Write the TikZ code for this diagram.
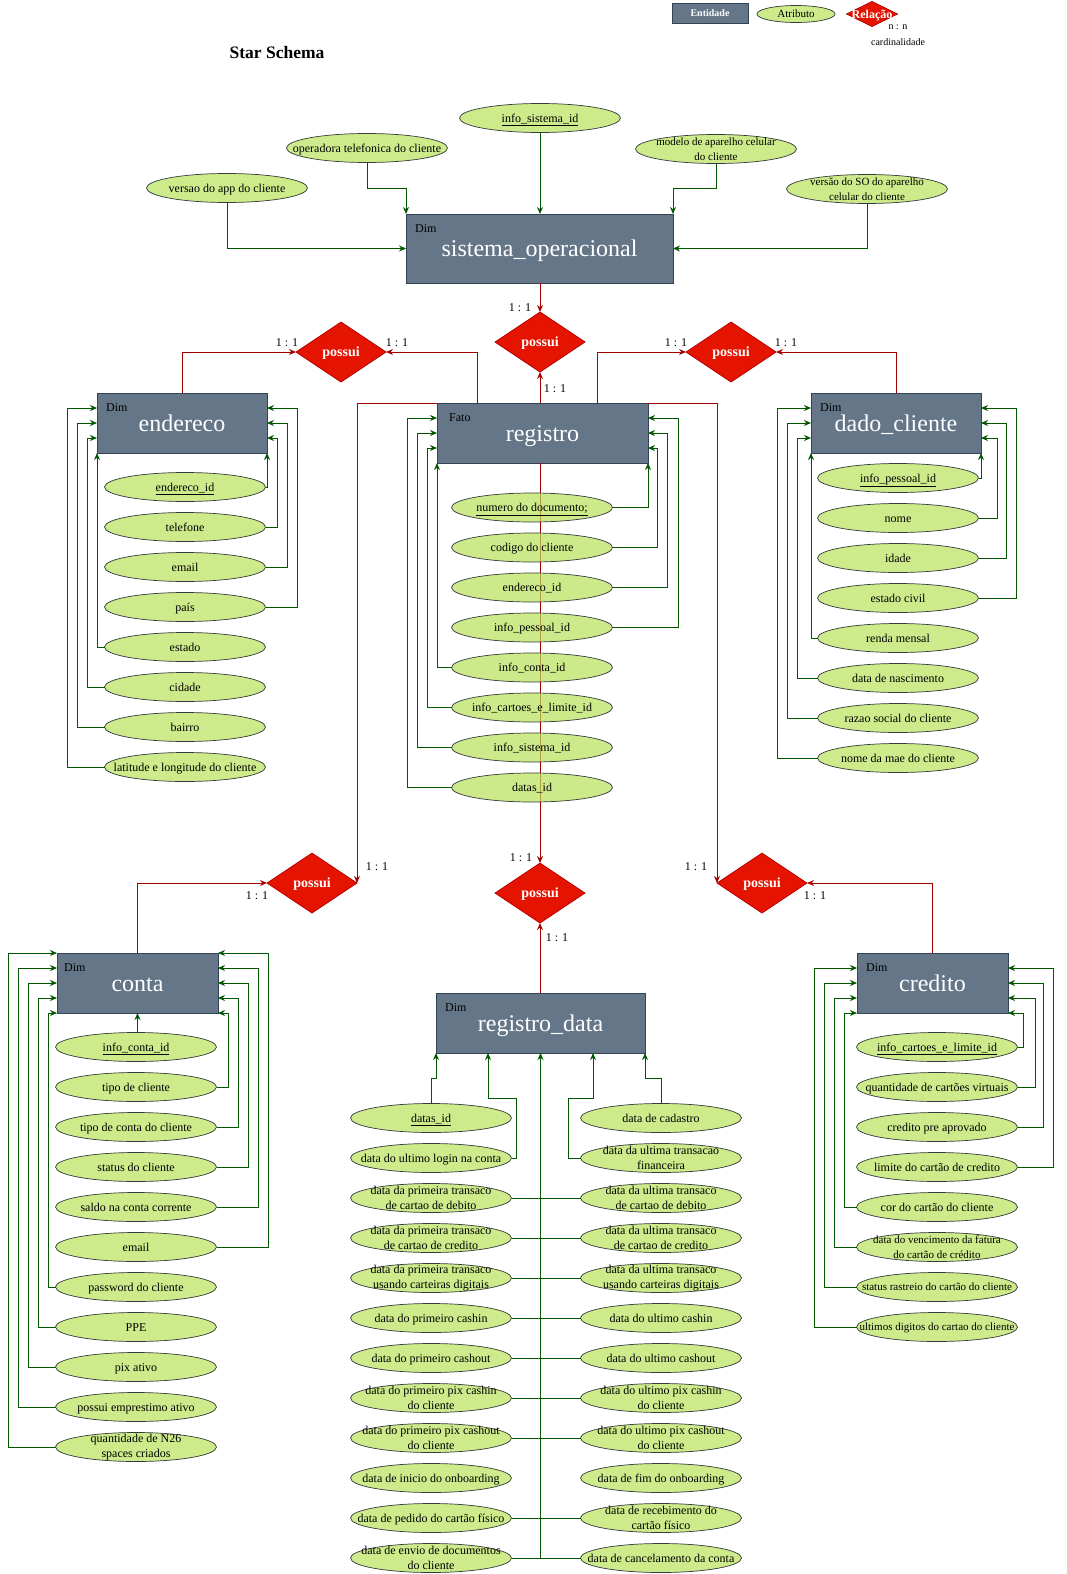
\documentclass[tikz,border=0pt]{standalone}
\usepackage{fontspec}
\setmainfont{Liberation Serif}
\usetikzlibrary{arrows.meta,shapes.geometric}
\definecolor{entfill}{HTML}{647687}
\definecolor{entdraw}{HTML}{314354}
\definecolor{attfill}{HTML}{CDEB8B}
\definecolor{attfillT}{HTML}{B8E259}
\definecolor{attdraw}{HTML}{36393D}
\definecolor{relfill}{HTML}{E51400}
\definecolor{reldraw}{HTML}{B20000}
\definecolor{gline}{HTML}{005700}
\definecolor{rline}{HTML}{A50000}
\tikzset{
 ent/.style={draw=entdraw, fill=entfill, text=white, inner sep=0pt, outer sep=0pt, line width=0.8pt, font=\fontsize{24}{28}\selectfont, text height=21.4pt, text depth=5.2pt},
 dimlab/.style={anchor=north west, xshift=9pt, yshift=-10pt, inner sep=0pt, text=black, font=\fontsize{12}{14}\selectfont, text height=8.2pt, text depth=0pt},
 att/.style={ellipse, draw=attdraw, fill=attfill, line width=0.7pt, minimum width=161pt, minimum height=29pt, inner xsep=-70pt, inner ysep=-20pt, outer sep=0pt, align=center, font=\fontsize{12}{15}\selectfont, text height=10.7pt, text depth=2.6pt},
 att2/.style={att, text height=, text depth=},
 attsm/.style={att, font=\fontsize{11}{15}\selectfont, text height=9.8pt, text depth=2.4pt},
 attsm2/.style={att, font=\fontsize{11}{15}\selectfont, text height=, text depth=},
 attT/.style={att, fill=attfillT, fill opacity=0.7, text opacity=1, draw opacity=1},
 rel/.style={diamond, draw=reldraw, fill=relfill, text=white, line width=0.7pt, minimum width=90pt, minimum height=60pt, inner sep=-30pt, outer sep=0pt, font=\bfseries\fontsize{14}{16}\selectfont, text height=12.5pt, text depth=3pt},
 card/.style={font=\fontsize{12}{14}\selectfont, inner sep=0pt, text height=10.7pt, text depth=2.6pt},
 garr/.style={draw=gline, line width=1pt, -{Stealth[length=7pt,width=6pt]}},
 gl/.style={draw=gline, line width=1pt},
 rarr/.style={draw=rline, line width=1pt, -{Stealth[length=7pt,width=6pt]}},
}
\begin{document}
\begin{tikzpicture}[x=1pt,y=-1pt]
\path[use as bounding box, fill=white] (0,0) rectangle (1067,1574);

% legend and title
\node[ent, minimum width=76pt, minimum height=20pt, font=\bfseries\fontsize{10}{12}\selectfont, text height=8.9pt, text depth=2.2pt] (legEnt) at (710,13) {Entidade};
\node[att, minimum width=78pt, minimum height=17pt, font=\fontsize{11}{12}\selectfont, text height=9.8pt, text depth=2.4pt] (legAtt) at (796,14) {Atributo};
\node[rel, minimum width=51pt, minimum height=25pt, font=\bfseries\fontsize{12}{13}\selectfont, text height=10.7pt, text depth=2.6pt] (legRel) at (872,14) {Relação};
\node[font=\fontsize{10}{12}\selectfont, inner sep=0pt] (legNN) at (898,27) {n : n};
\node[font=\fontsize{10}{12}\selectfont, inner sep=0pt] (legCard) at (898,42) {cardinalidade};
\node[font=\bfseries\fontsize{17.5}{20}\selectfont] (title) at (277,53) {Star Schema};

% entities
\node[ent, minimum width=267pt, minimum height=69pt, label={[dimlab]north west:Dim}] (so) at (539.5,248.5) {sistema\_operacional};
\node[ent, minimum width=170pt, minimum height=60pt, label={[dimlab]north west:Dim}] (endereco) at (182,423) {endereco};
\node[ent, minimum width=211pt, minimum height=60pt, label={[dimlab, xshift=3pt]north west:Fato}] (registro) at (542.5,433) {registro};
\node[ent, minimum width=170pt, minimum height=60pt, label={[dimlab]north west:Dim}] (dado) at (896,423) {dado\_cliente};
\node[ent, minimum width=161pt, minimum height=60pt, label={[dimlab, xshift=-2pt]north west:Dim}] (conta) at (137.5,983) {conta};
\node[ent, minimum width=151pt, minimum height=60pt, label={[dimlab]north west:Dim}] (credito) at (932.5,983) {credito};
\node[ent, minimum width=209pt, minimum height=60pt, label={[dimlab]north west:Dim}] (regdata) at (540.5,1023) {registro\_data};

% relationships
\node[rel] (dTop) at (540,342) {possui};
\node[rel] (dTL) at (341,352) {possui};
\node[rel] (dTR) at (731,352) {possui};
\node[rel] (dBC) at (540,893) {possui};
\node[rel] (dBL) at (312,883) {possui};
\node[rel] (dBR) at (762,883) {possui};

% red line through registro attributes (beneath them)
\draw[rarr] (registro.south -| dBC.north) -- (dBC.north);

% sistema_operacional attributes
\node[att] (s1) at (540,118) {\underline{info\_sistema\_id}};
\node[att] (s2) at (367,148) {operadora telefonica do cliente};
\node[att] (s3) at (227,188) {versao do app do cliente};
\node[attsm2] (s4) at (716,149) {modelo de aparelho celular\\do cliente};
\node[attsm2] (s5) at (867,189) {versão do SO do aparelho\\celular do cliente};

% endereco attributes
\node[att] (e1) at (185,487) {\underline{endereco\_id}};
\node[att] (e2) at (185,527) {telefone};
\node[att] (e3) at (185,567) {email};
\node[att] (e4) at (185,607) {país};
\node[att] (e5) at (185,647) {estado};
\node[att] (e6) at (185,687) {cidade};
\node[att] (e7) at (185,727) {bairro};
\node[att] (e8) at (185,767) {latitude e longitude do cliente};

% registro attributes
\node[attT] (r1) at (532,507.5) {\underline{numero do documento;}};
\node[attT] (r2) at (532,547.5) {codigo do cliente};
\node[attT] (r3) at (532,587.5) {endereco\_id};
\node[attT] (r4) at (532,627.5) {info\_pessoal\_id};
\node[attT] (r5) at (532,667.5) {info\_conta\_id};
\node[attT] (r6) at (532,707.5) {info\_cartoes\_e\_limite\_id};
\node[attT] (r7) at (532,747.5) {info\_sistema\_id};
\node[attT] (r8) at (532,787.5) {datas\_id};

% dado_cliente attributes
\node[att] (d1) at (898,478) {\underline{info\_pessoal\_id}};
\node[att] (d2) at (898,518) {nome};
\node[att] (d3) at (898,558) {idade};
\node[att] (d4) at (898,598) {estado civil};
\node[att] (d5) at (898,638) {renda mensal};
\node[att] (d6) at (898,678) {data de nascimento};
\node[att] (d7) at (898,718) {razao social do cliente};
\node[att] (d8) at (898,758) {nome da mae do cliente};

% conta attributes
\node[att] (c1) at (136,1047) {\underline{info\_conta\_id}};
\node[att] (c2) at (136,1087) {tipo de cliente};
\node[att] (c3) at (136,1127) {tipo de conta do cliente};
\node[att] (c4) at (136,1167) {status do cliente};
\node[att] (c5) at (136,1207) {saldo na conta corrente};
\node[att] (c6) at (136,1247) {email};
\node[att] (c7) at (136,1287) {password do cliente};
\node[att] (c8) at (136,1327) {PPE};
\node[att] (c9) at (136,1367) {pix ativo};
\node[att] (c10) at (136,1407) {possui emprestimo ativo};
\node[att2] (c11) at (136,1447) {quantidade de N26\\spaces criados};

% credito attributes
\node[att] (k1) at (937,1047) {\underline{info\_cartoes\_e\_limite\_id}};
\node[att] (k2) at (937,1087) {quantidade de cartões virtuais};
\node[att] (k3) at (937,1127) {credito pre aprovado};
\node[att] (k4) at (937,1167) {limite do cartão de credito};
\node[att] (k5) at (937,1207) {cor do cartão do cliente};
\node[attsm2] (k6) at (937,1247) {data do vencimento da fatura\\do cartão de crédito};
\node[attsm] (k7) at (937,1287) {status rastreio do cartão do cliente};
\node[attsm] (k8) at (937,1327) {ultimos digitos do cartao do cliente};

% registro_data attributes
\node[att] (L1) at (431,1118) {\underline{datas\_id}};
\node[att] (L2) at (431,1158) {data do ultimo login na conta};
\node[att2] (L3) at (431,1198) {data da primeira transaco\\de cartao de debito};
\node[att2] (L4) at (431,1238) {data da primeira transaco\\de cartao de credito};
\node[att2] (L5) at (431,1278) {data da primeira transaco\\usando carteiras digitais};
\node[att] (L6) at (431,1318) {data do primeiro cashin};
\node[att] (L7) at (431,1358) {data do primeiro cashout};
\node[att2] (L8) at (431,1398) {data do primeiro pix cashin\\do cliente};
\node[att2] (L9) at (431,1438) {data do primeiro pix cashout\\do cliente};
\node[att] (L10) at (431,1478) {data de inicio do onboarding};
\node[att] (L11) at (431,1518) {data de pedido do cartão físico};
\node[att2] (L12) at (431,1558) {data de envio de documentos\\do cliente};
\node[att] (R1) at (661,1118) {data de cadastro};
\node[att2] (R2) at (661,1158) {data da ultima transacao\\financeira};
\node[att2] (R3) at (661,1198) {data da ultima transaco\\de cartao de debito};
\node[att2] (R4) at (661,1238) {data da ultima transaco\\de cartao de credito};
\node[att2] (R5) at (661,1278) {data da ultima transaco\\usando carteiras digitais};
\node[att] (R6) at (661,1318) {data do ultimo cashin};
\node[att] (R7) at (661,1358) {data do ultimo cashout};
\node[att2] (R8) at (661,1398) {data do ultimo pix cashin\\do cliente};
\node[att2] (R9) at (661,1438) {data do ultimo pix cashout\\do cliente};
\node[att] (R10) at (661,1478) {data de fim do onboarding};
\node[att2] (R11) at (661,1518) {data de recebimento do\\cartão físico};
\node[att] (R12) at (661,1558) {data de cancelamento da conta};

% green connectors: sistema_operacional
\draw[garr] (s1.south) -- (s1.south |- so.north);
\draw[garr] (s2.south) |- (so.north west |- 0,188) -- (so.north west);
\draw[garr] (s4.south) |- (so.north east |- 0,188) -- (so.north east);
\draw[garr] (s3.south) |- (so.west);
\draw[garr] (s5.south) |- (so.east);

% endereco
\draw[garr] (e1.east) -| (endereco.south east);
\draw[garr] (e2.east) -| (277,438) -- (endereco.east |- 0,438);
\draw[garr] (e3.east) -| (287,423) -- (endereco.east |- 0,423);
\draw[garr] (e4.east) -| (297,408) -- (endereco.east |- 0,408);
\draw[garr] (e5.west) -| (endereco.south west);
\draw[garr] (e6.west) -| (87,438) -- (endereco.west |- 0,438);
\draw[garr] (e7.west) -| (77,423) -- (endereco.west |- 0,423);
\draw[garr] (e8.west) -| (67,408) -- (endereco.west |- 0,408);

% registro
\draw[garr] (r1.east) -| (registro.south east);
\draw[garr] (r2.east) -| (657,448) -- (registro.east |- 0,448);
\draw[garr] (r3.east) -| (667,433) -- (registro.east |- 0,433);
\draw[garr] (r4.east) -| (678,418) -- (registro.east |- 0,418);
\draw[garr] (r5.west) -| (registro.south west);
\draw[garr] (r6.west) -| (427,448) -- (registro.west |- 0,448);
\draw[garr] (r7.west) -| (417,433) -- (registro.west |- 0,433);
\draw[garr] (r8.west) -| (407,418) -- (registro.west |- 0,418);

% dado_cliente
\draw[garr] (d1.east) -| (dado.south east);
\draw[garr] (d2.east) -| (997,438) -- (dado.east |- 0,438);
\draw[garr] (d3.east) -| (1006,423) -- (dado.east |- 0,423);
\draw[garr] (d4.east) -| (1016,408) -- (dado.east |- 0,408);
\draw[garr] (d5.west) -| (dado.south west);
\draw[garr] (d6.west) -| (797,438) -- (dado.west |- 0,438);
\draw[garr] (d7.west) -| (787,423) -- (dado.west |- 0,423);
\draw[garr] (d8.west) -| (777,408) -- (dado.west |- 0,408);

% conta
\draw[garr] (conta.south |- c1.north) -- (conta.south);
\draw[garr] (c2.east) -| (228,1013) -- (conta.east |- 0,1013);
\draw[garr] (c3.east) -| (238,998) -- (conta.east |- 0,998);
\draw[garr] (c4.east) -| (248,983) -- (conta.east |- 0,983);
\draw[garr] (c5.east) -| (258,968) -- (conta.east |- 0,968);
\draw[garr] (c6.east) -| (268,953) -- (conta.east |- 0,953);
\draw[garr] (c7.west) -| (48,1013) -- (conta.west |- 0,1013);
\draw[garr] (c8.west) -| (38,998) -- (conta.west |- 0,998);
\draw[garr] (c9.west) -| (28,983) -- (conta.west |- 0,983);
\draw[garr] (c10.west) -| (18,968) -- (conta.west |- 0,968);
\draw[garr] (c11.west) -| (8,953) -- (conta.west |- 0,953);

% credito
\draw[garr] (k1.east) -| (1023,1013) -- (credito.east |- 0,1013);
\draw[garr] (k2.east) -| (1035,998) -- (credito.east |- 0,998);
\draw[garr] (k3.east) -| (1043,983) -- (credito.east |- 0,983);
\draw[garr] (k4.east) -| (1053,968) -- (credito.east |- 0,968);
\draw[garr] (k5.west) -| (844,1013) -- (credito.west |- 0,1013);
\draw[garr] (k6.west) -| (834,998) -- (credito.west |- 0,998);
\draw[garr] (k7.west) -| (824,983) -- (credito.west |- 0,983);
\draw[garr] (k8.west) -| (814,968) -- (credito.west |- 0,968);

% registro_data
\draw[garr] (L1.north) |- (regdata.south west |- 0,1078) -- (regdata.south west);
\draw[garr] (L2.east) -| (516,1098) -- (488,1098) -- (regdata.south -| 488,0);
\draw[garr] (R1.north) |- (regdata.south east |- 0,1078) -- (regdata.south east);
\draw[garr] (R2.west) -| (568,1098) -- (593,1098) -- (regdata.south -| 593,0);
\draw[garr] (regdata.south |- L12.east) -- (regdata.south);
\foreach \i in {3,4,5,6,7,8,9,11,12} { \draw[gl] (L\i.east) -- (R\i.west); }

% red connectors
\draw[rarr] (so.south -| dTop.north) -- (dTop.north);
\draw[rarr] (dTop.south |- registro.north) -- (dTop.south);
\draw[rarr] (endereco.north) |- (dTL.west);
\draw[rarr] (registro.north -| 477,0) |- (dTL.east);
\draw[rarr] (registro.north -| 597,0) |- (dTR.west);
\draw[rarr] (dado.north) |- (dTR.east);
\draw[rarr] (registro.north west) -| (dBL.east);
\draw[rarr] (registro.north east) -| (dBR.west);
\draw[rarr] (regdata.north -| dBC.south) -- (dBC.south);
\draw[rarr] (conta.north) |- (dBL.west);
\draw[rarr] (credito.north) |- (dBR.east);

% cardinalities
\node[card] (t1) at (520,307) {1 : 1};
\node[card] (t2) at (555,388) {1 : 1};
\node[card] (t3) at (287,342) {1 : 1};
\node[card] (t4) at (397,342) {1 : 1};
\node[card] (t5) at (676,342) {1 : 1};
\node[card] (t6) at (786,342) {1 : 1};
\node[card] (t7) at (377,866) {1 : 1};
\node[card] (t8) at (696,866) {1 : 1};
\node[card] (t9) at (521,857) {1 : 1};
\node[card] (t10) at (557,937) {1 : 1};
\node[card] (t11) at (257,895) {1 : 1};
\node[card] (t12) at (815,895) {1 : 1};
\end{tikzpicture}
\end{document}
